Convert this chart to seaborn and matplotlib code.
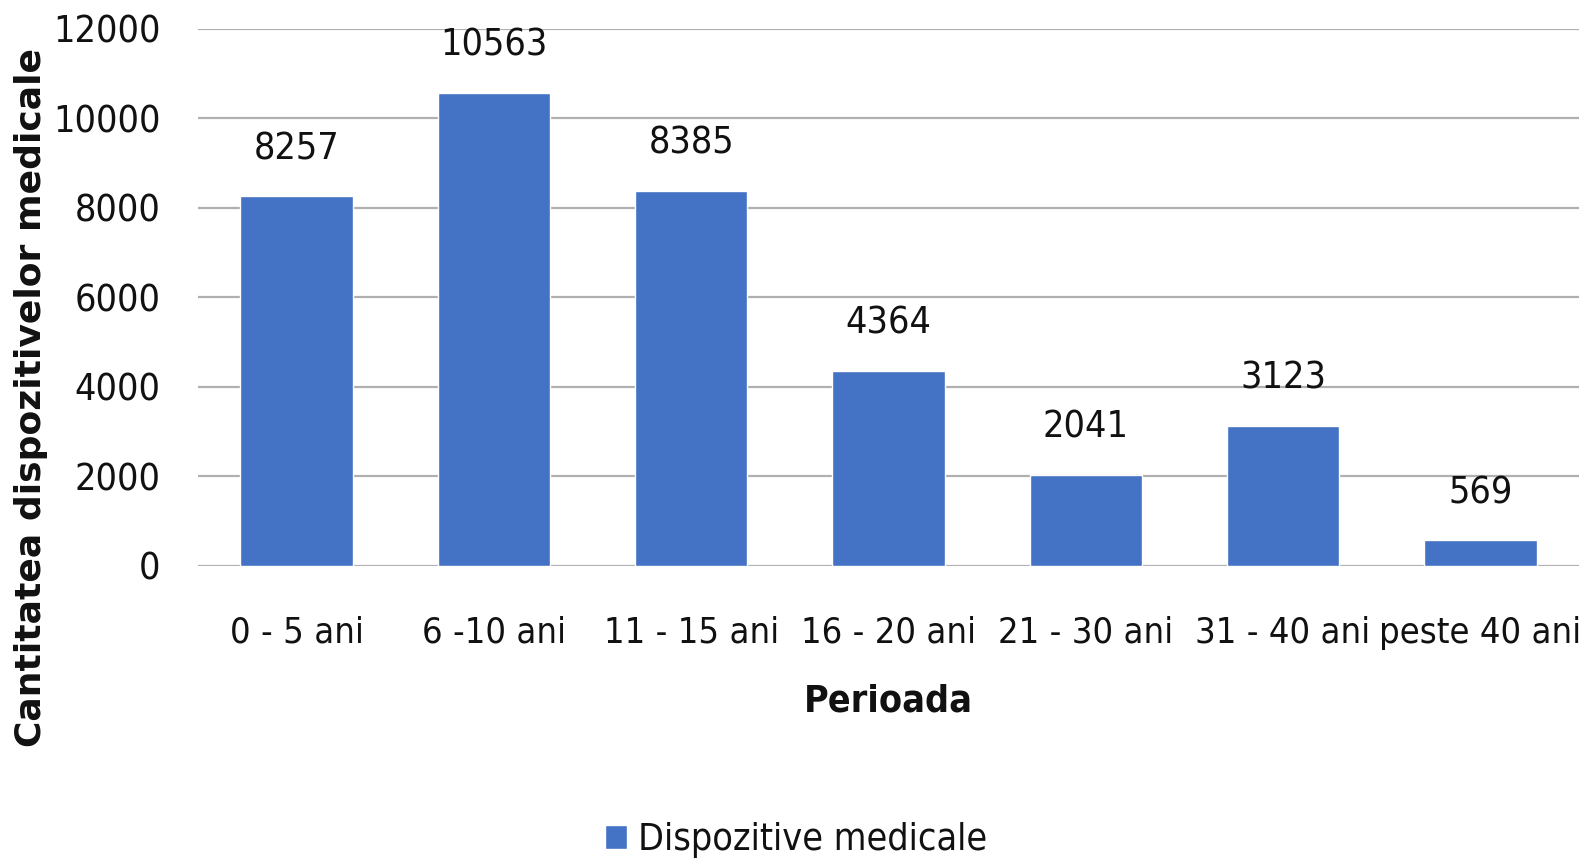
import matplotlib
matplotlib.use("Agg")
import matplotlib.pyplot as plt
from matplotlib import font_manager
import seaborn as sns
import pandas as pd

categories = ["0 - 5 ani", "6 -10 ani", "11 - 15 ani", "16 - 20 ani",
              "21 - 30 ani", "31 - 40 ani", "peste 40 ani"]
values = [8257, 10563, 8385, 4364, 2041, 3123, 569]
series_name = "Dispozitive medicale"
y_ticks = [0, 2000, 4000, 6000, 8000, 10000, 12000]

sns.set_theme(style="white")

# prefer a condensed face for the chart text when one is installed
has_condensed = any(f.name == "DejaVu Sans" and f.stretch in ("condensed", 300, "semi-condensed")
                    for f in font_manager.fontManager.ttflist)
if has_condensed:
    plt.rcParams["font.family"] = ["DejaVu Sans"]
    plt.rcParams["font.stretch"] = "condensed"
    base = 26
else:
    plt.rcParams["font.family"] = ["Roboto", "DejaVu Sans"]
    base = 25

df = pd.DataFrame({"Perioada": categories, "Cantitate": values})

fig = plt.figure(figsize=(15.92, 8.60), dpi=100)
ax = fig.add_axes([0.1244, 0.3419, 0.8674, 0.6247])

bar_color = "#4472C4"
sns.barplot(data=df, x="Perioada", y="Cantitate", color=bar_color,
            width=0.57, saturation=1, ax=ax, label=series_name, zorder=3)

ax.set_ylim(0, 12000)
ax.set_yticks(y_ticks)
ax.set_yticklabels([str(t) for t in y_ticks])
ax.set_xlim(-0.5, len(categories) - 0.5)
ax.yaxis.grid(True, color="#b0b0b0", linewidth=1.6, zorder=0)
ax.xaxis.grid(False)
for s in ax.spines.values():
    s.set_visible(False)

ax.tick_params(axis="y", length=0, pad=27, labelsize=base + 1, labelcolor="#111111")
ax.tick_params(axis="x", length=0, pad=36, labelsize=base, labelcolor="#111111")

ax.bar_label(ax.containers[0], labels=[str(v) for v in values],
             padding=21, fontsize=base + 1, color="#111111")

ax.set_xlabel("Perioada", fontsize=base + 1, fontweight="bold", labelpad=24,
              color="#111111")
ax.set_ylabel("")
fig.text(0.0195, 0.538, "Cantitatea dispozitivelor medicale", rotation=90,
         ha="center", va="center", fontsize=26, fontweight="bold",
         family="DejaVu Sans", fontstretch="normal", color="#111111")

handles, labels = ax.get_legend_handles_labels()
fig.legend(handles, labels, loc="center", bbox_to_anchor=(0.5, 1 - 840 / 860),
           frameon=False, fontsize=base + 1, handlelength=0.6, handleheight=0.6,
           handletextpad=0.3, labelcolor="#111111")
if ax.get_legend() is not None:
    ax.get_legend().remove()

fig.savefig("out.png", dpi=100)
